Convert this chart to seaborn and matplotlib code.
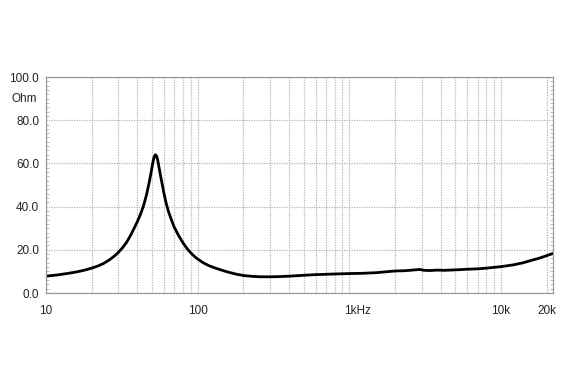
import matplotlib
matplotlib.use("Agg")
import matplotlib.pyplot as plt
import matplotlib.transforms as mtransforms
from matplotlib.ticker import FixedLocator, MultipleLocator, NullFormatter
import seaborn as sns
import pandas as pd

freq_hz = [10, 12, 14, 16, 18, 20, 22, 24, 26, 28, 30, 32, 34, 36, 38, 40, 42,
           44, 46, 48, 49.5, 50.5, 51.5, 52.5, 53.5, 54.5, 55.5, 57, 58.5, 60,
           62, 64, 67, 70, 75, 80, 85, 90, 95, 100, 110, 120, 130, 145, 160,
           180, 200, 230, 260, 300, 350, 400, 500, 600, 800, 1000, 1200, 1500,
           1800, 2000, 2300, 2600, 2900, 3100, 3400, 3800, 4200, 5000, 6000,
           7000, 8000, 10000, 12000, 14000, 16000, 18000, 20000, 22000]
impedance_ohm = [7.8, 8.4, 9.1, 9.8, 10.6, 11.5, 12.5, 13.7, 15.2, 16.9, 18.8,
                 21.0, 23.5, 26.5, 29.8, 33.0, 36.5, 40.5, 45.5, 51.5, 56.5,
                 60.0, 62.8, 64.0, 63.5, 61.5, 58.5, 54.0, 50.0, 46.0, 41.5,
                 38.0, 34.0, 30.5, 26.5, 23.2, 20.6, 18.6, 17.0, 15.7, 13.8,
                 12.5, 11.6, 10.5, 9.6, 8.7, 8.1, 7.7, 7.5, 7.5, 7.6, 7.8, 8.2,
                 8.5, 8.8, 9.0, 9.1, 9.4, 9.9, 10.2, 10.3, 10.6, 10.9, 10.5,
                 10.4, 10.6, 10.5, 10.7, 11.0, 11.2, 11.5, 12.2, 13.0, 14.0,
                 15.2, 16.2, 17.3, 18.3]

x_tick_values = [10, 100, 1000, 10000, 20000]
x_tick_labels = ["10", "100", "1kHz", "10k", "20k"]
y_tick_values = [0, 20, 40, 60, 80, 100]
y_tick_labels = ["0.0", "20.0", "40.0", "60.0", "80.0", "100.0"]

df = pd.DataFrame({"freq": freq_hz, "imp": impedance_ohm})

sns.set_style("white")
plt.rcParams["font.family"] = ["Liberation Sans", "DejaVu Sans"]

fig = plt.figure(figsize=(5.82, 3.88), dpi=100)
ax = fig.add_axes([46/582, 1-293/388, (553-46)/582, (293-77)/388])

ax.set_xscale("log")
ax.set_xlim(10, 22000)
ax.set_ylim(0, 100)

minor_x = [m * 10**e for e in range(1, 5) for m in range(2, 10) if m * 10**e < 22000]
ax.xaxis.set_major_locator(FixedLocator(x_tick_values))
ax.xaxis.set_minor_locator(FixedLocator(minor_x))
ax.xaxis.set_minor_formatter(NullFormatter())
ax.set_xticklabels(x_tick_labels)
ax.set_yticks(y_tick_values)
ax.set_yticklabels(y_tick_labels)
ax.yaxis.set_minor_locator(MultipleLocator(2))

grid_kw = dict(color="#b4b4b4", linestyle=(0, (1, 1)), linewidth=0.9)
ax.grid(True, which="both", axis="x", **grid_kw)
ax.grid(True, which="major", axis="y", **grid_kw)

sns.lineplot(data=df, x="freq", y="imp", ax=ax, color="black", linewidth=2.0)

ax.set_xlabel("")
ax.set_ylabel("")
for s in ax.spines.values():
    s.set_color("#9a9a9a")
    s.set_linewidth(0.9)

ax.tick_params(axis="x", which="both", length=0, pad=9, labelsize=8.5, colors="#222222")
ax.tick_params(axis="y", which="major", length=0, pad=5, labelsize=8.5, colors="#222222")
ax.tick_params(axis="y", which="minor", length=2.5, direction="in", left=True, right=True, color="#b0b0b0")

offset = mtransforms.ScaledTranslation(8/100, 0, fig.dpi_scale_trans)
for lbl in ax.get_xticklabels():
    if lbl.get_text() == "1kHz":
        lbl.set_transform(lbl.get_transform() + offset)

ax.text(-0.018, 0.9, "Ohm", transform=ax.transAxes, ha="right", va="center",
        fontsize=8.5, color="#222222")

fig.savefig("out.png", dpi=100, facecolor="white")
